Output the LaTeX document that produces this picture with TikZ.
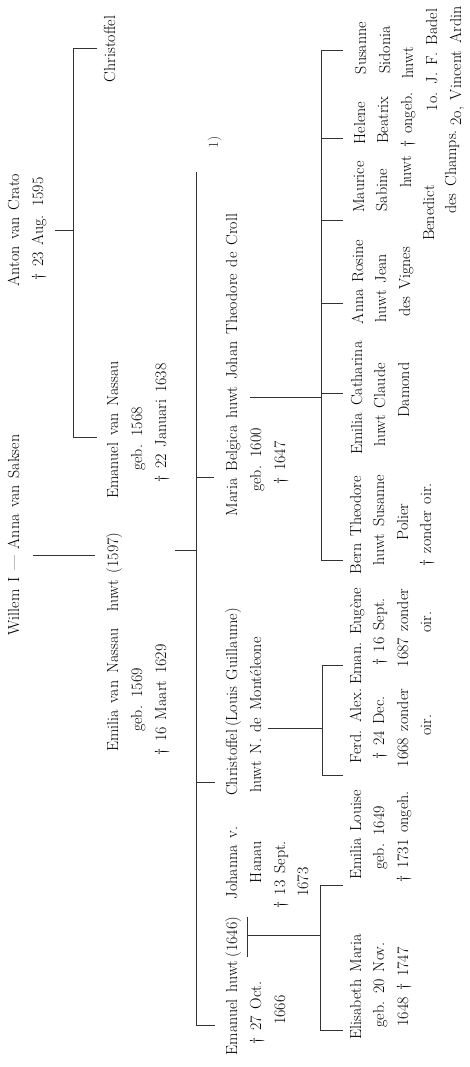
\documentclass[tikz,border=0pt]{standalone}
\newcommand{\gfs}{\fontsize{16}{19}\selectfont\spaceskip=0.42em plus 0.1em minus 0.05em\relax}
\newcommand{\dg}{\textdagger}
\tikzset{
  t/.style={rotate=90, anchor=base, inner sep=0pt, font=\gfs, text=black},
  fn/.style={rotate=90, anchor=base, inner sep=0pt, font=\fontsize{14}{16}\selectfont, text=black!75},
  ln/.style={line width=0.7pt, draw=black!80},
}
\begin{document}
\begin{tikzpicture}[x=1pt,y=-1pt]
\useasboundingbox (0,0) rectangle (470,1067);
% ---------- generation 1
\node[t] (willem) at (19,535) {Willem I \textemdash{} Anna van Saksen};
\node[t] (anton) at (19,230) {Anton van Crato};
\node[t] (antond) at (43,229) {\dg{} 23 Aug. 1595};
% ---------- generation 2
\node[t] (chr1) at (115,49) {Christoffel};
\node[t] (emilia) at (118,690) {Emilia van Nassau};
\node[t] (huwt1) at (118,572) {huwt (1597)};
\node[t] (emanuel) at (118,430) {Emanuel van Nassau};
\node[t] (emib) at (142,700) {geb. 1569};
\node[t] (emab) at (142,439) {geb. 1568};
\node[t] (emid) at (166,700) {\dg{} 16 Maart 1629};
\node[t] (emad) at (166,423) {\dg{} 22 Januari 1638};
% ---------- generation 3
\node[fn] (fn1) at (218,142) {1)};
\node[t] (eman2) at (237,1008) {Emanuel huwt};
\node[t] (y1646) at (237,937) {(1646)};
\node[t] (joh) at (237,863) {Johanna v.};
\node[t] (chr2) at (237,702) {Christoffel\,(Louis Guillaume)};
\node[t] (maria) at (237,365) {Maria Belgica huwt Johan Theodore de Croll};
\node[t] at (261,1013) {\dg{} 27 Oct.};
\node[t] at (285,1010) {1666};
\node[t] at (261,862) {Hanau};
\node[t] at (285,875) {\dg{} 13 Sept.};
\node[t] at (308,882) {1673};
\node[t] (chr2b) at (261,715) {huwt N. de Mont\'eleone};
\node[t] at (261,460) {geb. 1600};
\node[t] at (285,463) {\dg{} 1647};
% ---------- generation 4
\node[t] (elis) at (361,987) {Elisabeth Maria};
\node[t] at (384,985) {geb. 20 Nov.};
\node[t] at (408,987) {1648 \dg{} 1747};
\node[t] (emlou) at (361,835) {Emilia Louise};
\node[t] at (384,838) {geb. 1649};
\node[t] at (408,837) {\dg{} 1731 ongeh.};
\node[t] (ferd) at (361,726) {Ferd. Alex.};
\node[t] at (384,728) {\dg{} 24 Dec.};
\node[t] at (408,728) {1668 zonder};
\node[t] at (431,725) {oir.};
\node[t] (eug) at (361,636) {Eman. Eug\`ene};
\node[t] at (384,632) {\dg{} 16 Sept.};
\node[t] at (408,628) {1687 zonder};
\node[t] at (431,622) {oir.};
\node[t] (bern) at (361,525) {Bern Theodore};
\node[t] at (384,520) {huwt Susanne};
\node[t] at (408,522) {Polier};
\node[t] at (431,525) {\dg{} zonder oir.};
\node[t] (emcat) at (362,398) {Emilia Catharina};
\node[t] at (385,405) {huwt Claude};
\node[t] at (409,390) {Damond};
\node[t] (anna) at (363,282) {Anna Rosine};
\node[t] at (386,288) {huwt Jean};
\node[t] at (410,282) {des Vignes};
\node[t] (maur) at (364,187) {Maurice};
\node[t] at (387,190) {Sabine};
\node[t] at (411,172) {huwt};
\node[t] at (434,213) {Benedict};
\node[t] at (456,172) {des Champs.};
\node[t] (hel) at (365,123) {Helene};
\node[t] at (388,120) {Beatrix};
\node[t] at (412,120) {\dg{} ongeb.};
\node[t] (sus) at (366,48) {Susanne};
\node[t] at (390,50) {Sidonia};
\node[t] at (413,63) {huwt};
\node[t] at (437,60) {1o. J. F. Badel};
\node[t] at (461,66) {2o, Vincent Ardin};
% ---------- connectors
% Willem I -- Anna to Emilia
\coordinate (wA) at (33,555); \coordinate (wB) at (95,555);
\draw[ln] (wA) -- (wB);
% Anton van Crato to his sons
\coordinate (aA) at (55,230); \coordinate (aB) at (73,230);
\coordinate (b1a) at (73,48); \coordinate (b1b) at (73,437);
\draw[ln] (aA) -- (aB);
\draw[ln] (97,48) -- (b1a) -- (b1b) -- (97,437);
% Emilia x Emanuel to children
\coordinate (cA) at (175,550); \coordinate (cB) at (196,550);
\draw[ln] (cA) -- (cB);
\coordinate (b2a) at (196,172); \coordinate (b2b) at (196,1025);
\draw[ln] (b2a) -- (b2b) -- (215,1025);
\draw[ln] (196,782) -- (215,782);
\draw[ln] (196,477) -- (214,477);
% Emanuel x Johanna
\draw[ln] (247,917) -- (247,957);
\draw[ln] (247,935) -- (320,935);
\draw[ln] (343,885) -- (320,885) -- (320,1030) -- (343,1030);
% Christoffel
\draw[ln] (268,728) -- (322,728);
\draw[ln] (343,665) -- (322,665) -- (322,775) -- (343,775);
% Maria Belgica x de Croll
\draw[ln] (250,397) -- (321,397);
\draw[ln] (343,50) -- (321,50) -- (321,560) -- (343,560);
\foreach \yy in {138,220,303,393} \draw[ln] (321,\yy) -- (343,\yy);
\end{tikzpicture}
\end{document}
